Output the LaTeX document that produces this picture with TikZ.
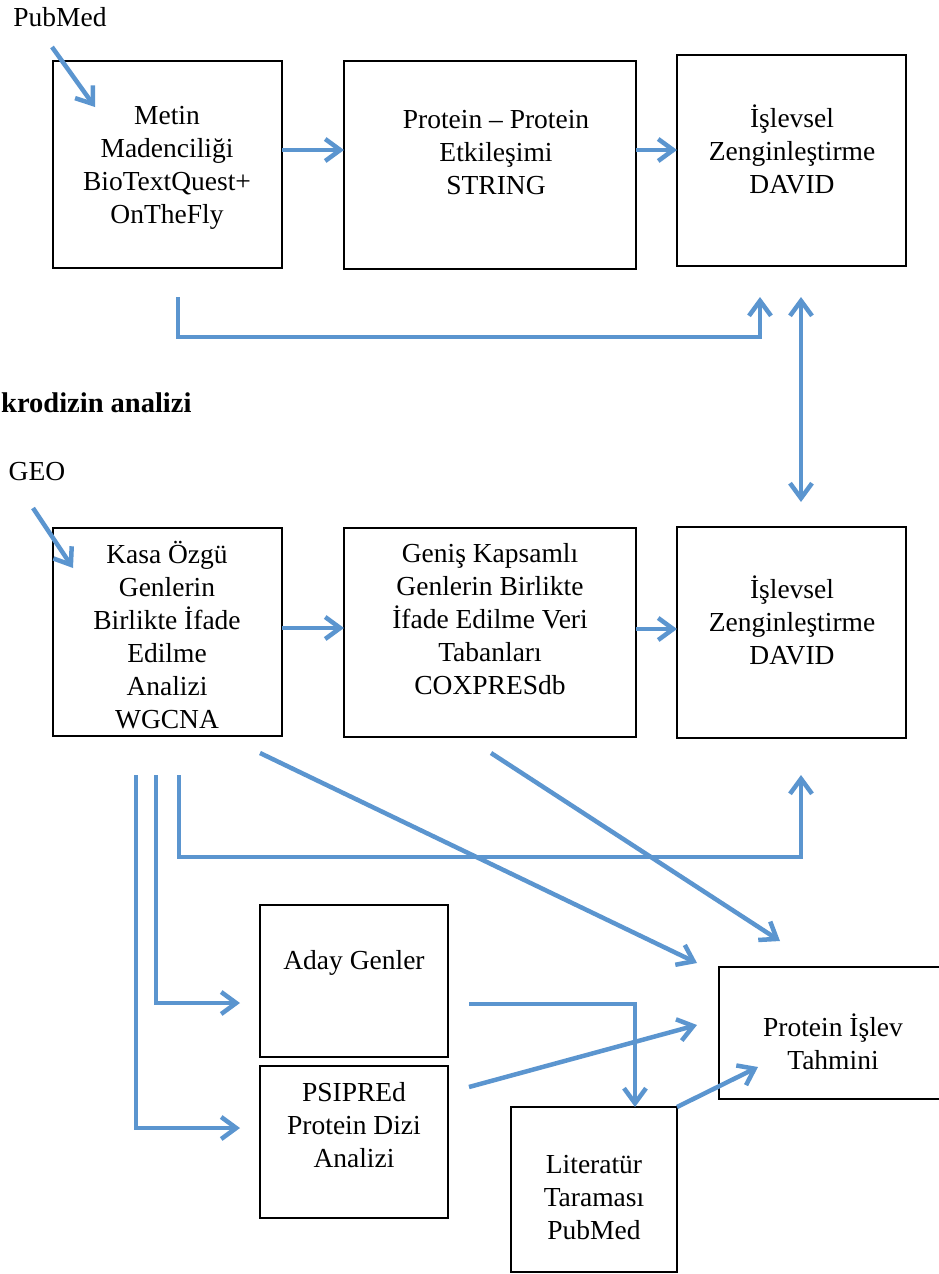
\documentclass[tikz,border=0pt]{standalone}
\usepackage{fontspec}
\setmainfont{Liberation Serif}
\usetikzlibrary{arrows.meta,calc}
\definecolor{arrblue}{RGB}{91,149,207}
\tikzset{
  box/.style={draw=black, line width=2pt, inner sep=0pt, outer sep=0pt},
  txt/.style={align=center, inner sep=0pt, font=\fontsize{27.5}{33}\selectfont},
  tip/.style={Straight Barb[length=15pt,width=22pt]},
  arr/.style={draw=arrblue, line width=4.5pt, -{Straight Barb[length=15pt,width=22pt]}},
  dbl/.style={draw=arrblue, line width=4.5pt, {Straight Barb[length=15pt,width=22pt]}-{Straight Barb[length=15pt,width=22pt]}},
}
\begin{document}
\begin{tikzpicture}[x=1pt,y=-1pt]
\useasboundingbox (0,0) rectangle (939,1274);

% boxes
\node[box, minimum width=229pt, minimum height=207pt] (b1) at (167.5,164.5) {};
\node[box, minimum width=292pt, minimum height=208pt] (b2) at (490,165) {};
\node[box, minimum width=229pt, minimum height=211pt] (b3) at (791.5,160.5) {};
\node[box, minimum width=229pt, minimum height=208pt] (b4) at (167.5,632) {};
\node[box, minimum width=292pt, minimum height=209pt] (b5) at (490,632.5) {};
\node[box, minimum width=229pt, minimum height=211pt] (b6) at (791.5,632.5) {};
\node[box, minimum width=188pt, minimum height=152pt] (b7) at (354,981) {};
\node[box, minimum width=188pt, minimum height=152pt] (b8) at (354,1142) {};
\node[box, minimum width=166pt, minimum height=165pt] (b9) at (594,1189.5) {};
\node[box, minimum width=235pt, minimum height=132pt] (b10) at (836.5,1033) {};

% texts
\node[txt] (t1) at (167,168) {Metin\\Madenciliği\\BioTextQuest+\\OnTheFly};
\node[txt] (t2) at (496,153) {Protein – Protein\\Etkileşimi\\STRING};
\node[txt] (t3) at (792,149) {İşlevsel\\Zenginleştirme\\DAVID};
\node[txt] (t4) at (167,635) {Kasa Özgü\\Genlerin\\Birlikte İfade\\Edilme\\Analizi\\WGCNA};
\node[txt] (t5) at (490,619) {Geniş Kapsamlı\\Genlerin Birlikte\\İfade Edilme Veri\\Tabanları\\COXPRESdb};
\node[txt] (t6) at (792,620) {İşlevsel\\Zenginleştirme\\DAVID};
\node[txt] (t7) at (354,963) {Aday Genler};
\node[txt] (t8) at (354,1125) {PSIPREd\\Protein Dizi\\Analizi};
\node[txt] (t9) at (594,1198) {Literatür\\Taraması\\PubMed};
\node[txt] (t10) at (833,1042) {Protein İşlev\\Tahmini};
\node[txt] (pubmed) at (60,17) {PubMed};
\node[txt] (geo) at (37,472) {GEO};
\node[txt, anchor=west, font=\fontsize{28.5}{33}\selectfont\bfseries] (title) at (1,403) {krodizin analizi};

% free end points
\coordinate (pmA) at (52,47);   \coordinate (pmB) at (95,107);
\coordinate (geA) at (33,508);  \coordinate (geB) at (73,568);
\coordinate (e1s) at (178,297); \coordinate (e1e) at (760,297);
\coordinate (d1) at (801,297);  \coordinate (d2) at (801,502);
\coordinate (dg1s) at (260,753); \coordinate (dg1e) at (697,963);
\coordinate (dg2s) at (491,753); \coordinate (dg2e) at (780,941);
\coordinate (e2s) at (179,775); \coordinate (e2e) at (801,775);
\coordinate (e3s) at (156,775); \coordinate (e3e) at (240,1003);
\coordinate (e4s) at (136,775); \coordinate (e4e) at (240,1128);
\coordinate (alA) at (469,1004);
\coordinate (psA) at (469,1087); \coordinate (psB) at (697,1025);
\coordinate (ltB) at (758,1067);

% connectors
\draw[arr] (pmA) -- (pmB);
\draw[arr] (geA) -- (geB);
\draw[arr] (b1.east |- 0,150) -- (b2.west |- 0,150);
\draw[arr] (b2.east |- 0,150) -- (b3.west |- 0,150);
\draw[arr] (e1s) -- ++(0,40) -| (e1e);
\draw[dbl] (d1) -- (d2);
\draw[arr] (b4.east |- 0,628) -- (b5.west |- 0,628);
\draw[arr] (b5.east |- 0,629) -- (b6.west |- 0,629);
\draw[arr] (dg1s) -- (dg1e);
\draw[arr] (dg2s) -- (dg2e);
\draw[arr] (e2s) -- ++(0,82) -| (e2e);
\draw[arr] (e3s) |- (e3e);
\draw[arr] (e4s) |- (e4e);
\draw[arr] (alA) -| (b9.north -| 635,0);
\draw[arr] (psA) -- (psB);
\draw[arr] (b9.north east) -- (ltB);
\end{tikzpicture}
\end{document}
